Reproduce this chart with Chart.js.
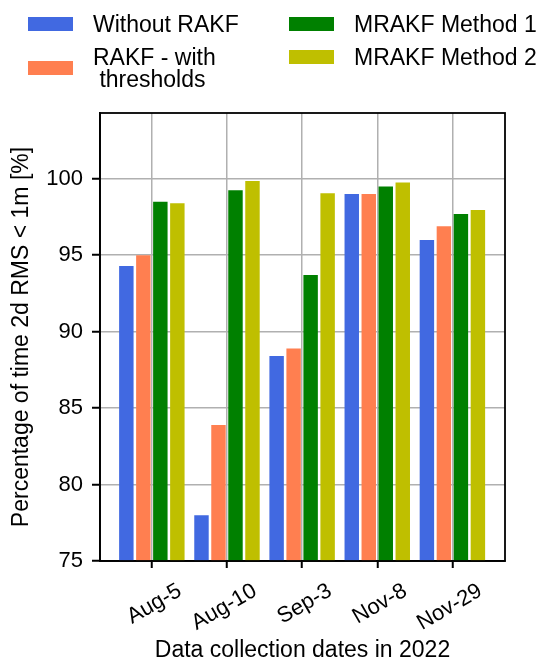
<!DOCTYPE html>
<html>
<head>
<meta charset="utf-8">
<script src="https://cdn.jsdelivr.net/npm/chart.js@4/dist/chart.umd.min.js"></script>
<style>
  html, body { margin: 0; padding: 0; background: #fff; }
  #wrap { position: relative; width: 540px; height: 662px; }
  #chart { position: absolute; left: 0; top: 0; }
  #legend { position: absolute; left: 0; top: 0; width: 540px; height: 100px;
            font-family: 'Liberation Sans', Arial, sans-serif; font-size: 23px; color: #000; }
  .col { position: absolute; top: 13px; display: flex; flex-direction: column; gap: 11px; }
  .item { display: flex; align-items: center; }
  .sw { width: 45px; height: 14px; flex: none; }
  .txt { white-space: pre; line-height: 22px; margin-left: 20px; }
</style>
</head>
<body>
<div id="wrap">
  <canvas id="chart" width="540" height="662"></canvas>
  <div id="legend"></div>
</div>
<script>
const categories = ['Aug-5', 'Aug-10', 'Sep-3', 'Nov-8', 'Nov-29'];
const seriesNames = ['Without RAKF', 'RAKF - with\n thresholds', 'MRAKF Method 1', 'MRAKF Method 2'];
const withoutRAKF = [94.3, 78.0, 88.4, 99.0, 96.0];
const rakfThresholds = [95.0, 83.9, 88.9, 99.0, 96.9];
const mrakfMethod1 = [98.5, 99.25, 93.7, 99.5, 97.7];
const mrakfMethod2 = [98.4, 99.85, 99.05, 99.75, 97.95];
const yTickValues = [75, 80, 85, 90, 95, 100];
const seriesColors = ['#4169E1', '#FF7F50', '#008000', '#BFBF00'];

const seriesValues = [withoutRAKF, rakfThresholds, mrakfMethod1, mrakfMethod2];
const toPoints = arr => arr.map((v, i) => ({ x: i, y: v }));

const FONT = "'Liberation Sans', Arial, sans-serif";
Chart.defaults.font.family = FONT;
Chart.defaults.color = '#000';

const framePlugin = {
  id: 'frame',
  afterDatasetsDraw(chart) {
    const { ctx, chartArea: a } = chart;
    ctx.save();
    ctx.strokeStyle = '#000';
    ctx.lineWidth = 1.8;
    ctx.strokeRect(a.left, a.top, a.right - a.left, a.bottom - a.top);
    ctx.restore();
  }
};

const htmlLegend = {
  id: 'htmlLegend',
  afterUpdate(chart) {
    const box = document.getElementById('legend');
    box.innerHTML = '';
    const colLeft = [28, 289];
    const items = chart.data.datasets;
    [0, 1].forEach(c => {
      const col = document.createElement('div');
      col.className = 'col';
      col.style.left = colLeft[c] + 'px';
      items.slice(c * 2, c * 2 + 2).forEach(ds => {
        const it = document.createElement('div');
        it.className = 'item';
        const sw = document.createElement('span');
        sw.className = 'sw';
        sw.style.background = ds.backgroundColor;
        const tx = document.createElement('span');
        tx.className = 'txt';
        tx.textContent = ds.label;
        it.appendChild(sw); it.appendChild(tx);
        col.appendChild(it);
      });
      box.appendChild(col);
    });
  }
};

new Chart(document.getElementById('chart'), {
  type: 'bar',
  data: {
    datasets: seriesNames.map((name, k) => ({
      label: name,
      data: toPoints(seriesValues[k]),
      backgroundColor: seriesColors[k],
      borderWidth: 0,
      categoryPercentage: 0.905,
      barPercentage: 0.85
    }))
  },
  options: {
    responsive: false,
    animation: false,
    devicePixelRatio: 1,
    layout: { padding: { top: 113, right: 35, left: 0, bottom: 0 } },
    plugins: { legend: { display: false }, tooltip: { enabled: false } },
    scales: {
      x: {
        type: 'linear',
        offset: false,
        min: -0.69,
        max: 4.70,
        afterBuildTicks: axis => { axis.ticks = categories.map((c, i) => ({ value: i })); },
        afterFit: axis => { axis.height = 101; },
        ticks: {
          autoSkip: false,
          minRotation: 30,
          maxRotation: 30,
          labelOffset: 28,
          padding: 10,
          font: { size: 22 },
          color: '#000',
          callback: v => categories[v]
        },
        grid: { offset: false, color: '#b0b0b0', lineWidth: 1.5, tickColor: '#000', tickWidth: 2, tickLength: 7 },
        border: { display: true, color: '#000', width: 1.8 },
        title: { display: true, text: 'Data collection dates in 2022', font: { size: 23, lineHeight: 1 }, padding: 0, color: '#000' }
      },
      y: {
        min: 75,
        max: 104.3,
        afterBuildTicks: axis => { axis.ticks = yTickValues.map(v => ({ value: v })); },
        afterFit: axis => { axis.width = 100; },
        ticks: { font: { size: 22 }, color: '#000', padding: 9 },
        grid: { color: '#b0b0b0', lineWidth: 1.5, tickColor: '#000', tickWidth: 2, tickLength: 8 },
        border: { display: true, color: '#000', width: 1.8 },
        title: { display: true, text: 'Percentage of time 2d RMS < 1m [%]', font: { size: 23, lineHeight: 1 }, padding: { top: 10, bottom: 0 }, color: '#000' }
      }
    }
  },
  plugins: [framePlugin, htmlLegend]
});
</script>
</body>
</html>
